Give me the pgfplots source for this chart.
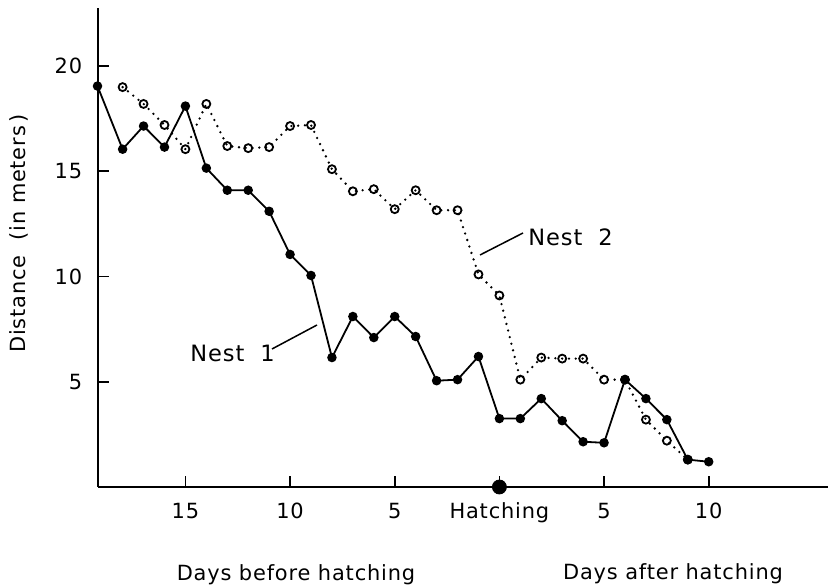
\documentclass[border=0pt]{standalone}
\usepackage{fontspec}
\setmainfont{DejaVu Sans}[LetterSpace=4]
\usepackage{pgfplots}
\usepackage{pgfplotstable}
\pgfplotsset{compat=1.18}
\pgfplotstableread{
d y
-19.2 19.05
-18 16.05
-17 17.15
-16 16.15
-15 18.1
-14 15.15
-13 14.1
-12 14.1
-11 13.1
-10 11.05
-9 10.05
-8 6.15
-7 8.1
-6 7.1
-5 8.1
-4 7.15
-3 5.05
-2 5.1
-1 6.2
0 3.25
1 3.25
2 4.2
3 3.15
4 2.15
5 2.1
6 5.1
7 4.2
8 3.2
9 1.3
10 1.2
}\nestone
\pgfplotstableread{
d y
-18 19.0
-17 18.2
-16 17.2
-15 16.05
-14 18.2
-13 16.2
-12 16.1
-11 16.15
-10 17.15
-9 17.2
-8 15.1
-7 14.05
-6 14.15
-5 13.2
-4 14.1
-3 13.15
-2 13.15
-1 10.1
0 9.1
1 5.1
2 6.15
3 6.1
4 6.1
5 5.1
6 5.1
7 3.2
8 2.2
9 1.3
}\nesttwo
\begin{document}
\begin{tikzpicture}[x=0.5bp,y=0.5bp]
\useasboundingbox (0,0) rectangle (828,588);
\begin{axis}[
  at={(48.75bp,50.5bp)}, anchor=south west,
  scale only axis, width=365.25bp, height=239.5bp,
  xmin=-19.2, xmax=15.7, ymin=0, ymax=22.76,
  axis x line*=bottom, axis y line*=left,
  axis line style={line width=1bp},
  every tick/.style={black, line width=0.8bp},
  tick align=inside, major tick length=5.5bp,
  xtick={-15,-10,-5,0,5,10},
  xticklabels={15,10,5,Hatching,5,10},
  ytick={5,10,15,20},
  yticklabels={5,10,15,20},
  every tick label/.append style={font=\fontsize{10.5}{12}\selectfont},
  xticklabel style={inner sep=0pt, anchor=north, yshift=-7.75bp},
  yticklabel style={inner sep=0pt, anchor=east, xshift=-7.5bp},
  clip=false,
]
\addplot[black, line width=1.3bp, line cap=round, dash pattern=on 0pt off 3.4bp,
  mark=o, mark size=2bp, mark options={solid, fill=white, line width=0.9bp}]
  table[x=d, y=y] {\nesttwo};
\addplot[black, line width=0.9bp, mark=*, mark size=1.9bp, mark options={solid}]
  table[x=d, y=y] {\nestone};
\addplot[only marks, black, mark=*, mark size=3.5bp] coordinates {(0,0)};
\end{axis}
\node[rotate=90, anchor=base, font=\fontsize{10.5}{12}\selectfont] at (25,354.5) {Distance\ \ (in meters\,)};
\node[anchor=base, font=\fontsize{10.5}{12}\selectfont] at (296,7) {Days before hatching};
\node[anchor=base, font=\fontsize{10.5}{12}\selectfont] at (673,8) {Days after hatching};
\node[anchor=base west, inner sep=0pt, font=\fontsize{11.3}{13}\selectfont] at (528,342) {Nest\ \ 2};
\node[anchor=base west, inner sep=0pt, font=\fontsize{11.3}{13}\selectfont] at (190,226) {Nest\ \ 1};
\draw[line width=0.75bp] (480,333) -- (523,355);
\draw[line width=0.75bp] (272,239) -- (317,263);
\end{tikzpicture}
\end{document}
